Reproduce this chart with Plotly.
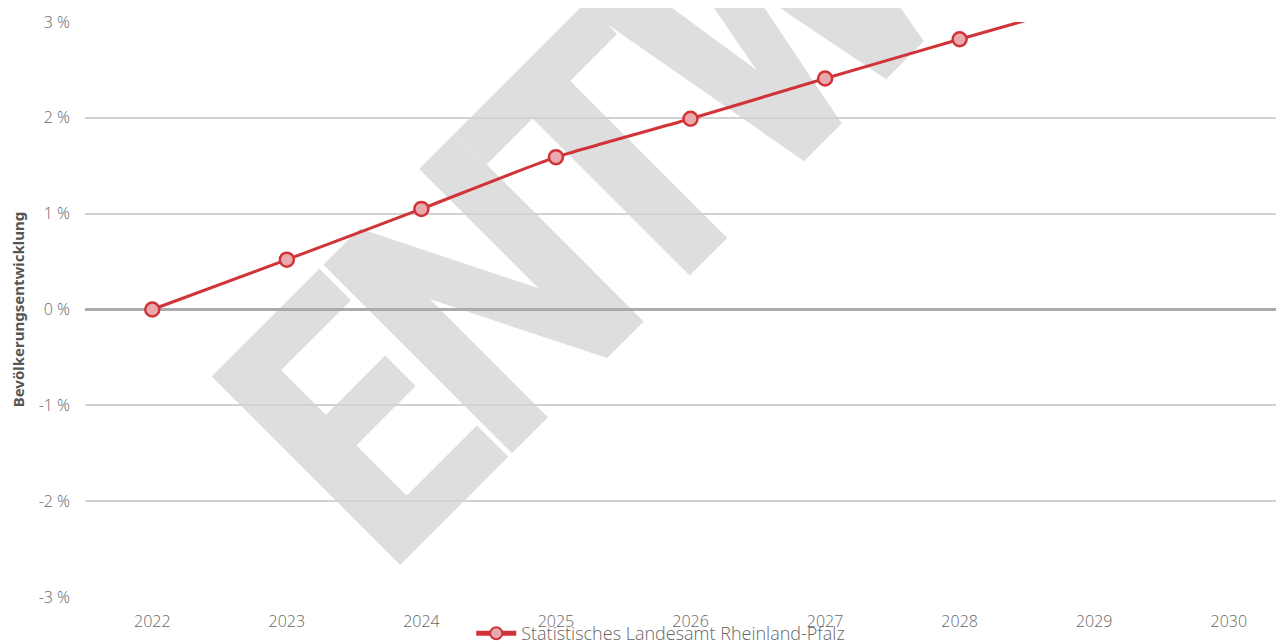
import plotly.graph_objects as go

# data
years = [2022, 2023, 2024, 2025, 2026, 2027, 2028, 2029]
growth = [0.0, 0.52, 1.05, 1.59, 1.99, 2.41, 2.82, 3.22]
series_name = 'Statistisches Landesamt Rheinland-Pfalz'
y_ticks = [-3, -2, -1, 0, 1, 2, 3]
y_tick_labels = ['-3 %', '-2 %', '-1 %', '0 %', '1 %', '2 %', '3 %']
watermark = 'ENTWURF'

RED = '#d13438'
GRID = '#d2d2d2'
TICK_GREY = '#666666'
FONT = 'Open Sans'

fig = go.Figure()

fig.add_trace(go.Scatter(
    x=years,
    y=growth,
    mode='lines+markers',
    name=series_name,
    line=dict(color=RED, width=3, shape='spline', smoothing=0.5),
    marker=dict(size=14, color='#e9aaae', line=dict(color=RED, width=2.5)),
))

# draft watermark, kept under the gridlines and the line
fig.add_shape(
    type='rect', xref='paper', yref='paper',
    x0=0.53, x1=0.555, y0=1.02, y1=1.035,
    line=dict(width=0), fillcolor='rgba(0,0,0,0)',
    layer='below',
    label=dict(
        text='<span style="letter-spacing:-26px;font-stretch:condensed"><b>'
             + watermark + '</b></span>',
        textangle=-45,
        textposition='middle center',
        font=dict(family='Roboto', size=375, color='#dedede'),
    ),
)

# the page adds an 8px body margin, so the margins below are shifted by that
fig.update_layout(
    width=1284,
    height=641,
    margin=dict(l=77, r=0, t=14, b=52, autoexpand=False),
    plot_bgcolor='white',
    paper_bgcolor='white',
    font=dict(family=FONT, color=TICK_GREY),
    showlegend=True,
    legend=dict(
        orientation='h',
        xref='paper', x=0.477, xanchor='center',
        yref='container', y=0.024, yanchor='middle',
        itemsizing='constant',
        itemwidth=40,
        font=dict(family=FONT, size=18, color=TICK_GREY, weight=300),
        bgcolor='rgba(0,0,0,0)',
    ),
)

fig.update_xaxes(
    range=[2021.5, 2030.47],
    tickmode='array',
    tickvals=list(range(2022, 2031)),
    showgrid=False,
    zeroline=False,
    showline=False,
    ticks='',
    automargin=False,
    tickfont=dict(family=FONT, size=16, color=TICK_GREY, weight=300),
    ticklabelstandoff=13,
)

fig.update_yaxes(
    range=[-3, 3],
    tickmode='array',
    tickvals=y_ticks,
    ticktext=y_tick_labels,
    showgrid=True,
    gridcolor=GRID,
    gridwidth=2,
    zeroline=True,
    zerolinecolor='#ababab',
    zerolinewidth=2.5,
    showline=False,
    ticks='',
    automargin=False,
    tickfont=dict(family=FONT, size=16, color=TICK_GREY, weight=300),
    ticklabelstandoff=14,
    title=dict(text='<b>Bevölkerungsentwicklung</b>',
               font=dict(family='Noto Sans', size=15, color='#555555'), standoff=12),
)

fig.write_html('out.html')
